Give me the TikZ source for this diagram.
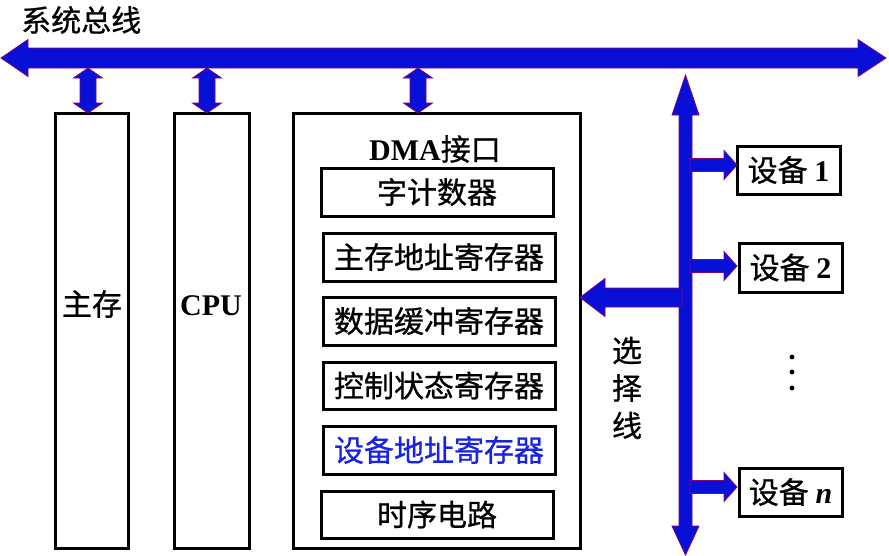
\documentclass[tikz,border=0pt]{standalone}
\usepackage{fontspec}
\setmainfont{Liberation Serif}
\newfontfamily\cjk[FakeBold=0.8]{Noto Sans CJK SC}
\definecolor{busblue}{RGB}{8,16,216}
\definecolor{busedge}{RGB}{128,0,128}
\definecolor{regblue}{RGB}{25,35,225}

% vertical two-headed block arrow: centre x, top y, bottom y
\newcommand\tapArrow[3]{%
  \path[blk] (#1,#2) -- (#1+14.5,#2+10) -- (#1+8,#2+10) -- (#1+8,#3-10)
    -- (#1+14.5,#3-10) -- (#1,#3) -- (#1-14.5,#3-10) -- (#1-8,#3-10)
    -- (#1-8,#2+10) -- (#1-14.5,#2+10) -- cycle;}
% short right-pointing block arrow from the select line to a device
\newcommand\devArrow[1]{%
  \path[blk] (690,#1-6.5) -- (724,#1-6.5) -- (724,#1-14.5) -- (737,#1)
    -- (724,#1+14.5) -- (724,#1+6.5) -- (690,#1+6.5) -- cycle;}

\begin{document}
\begin{tikzpicture}[x=1pt,y=-1pt,
  box/.style={draw=black, line width=3pt, inner sep=0pt},
  cjklab/.style={font=\cjk\fontsize{30}{36}\selectfont, inner sep=0pt},
  blk/.style={fill=busblue, draw=busedge, line width=0.8pt, line join=miter}]
\useasboundingbox (0,0) rectangle (889,555);

% system bus
\node[cjklab, anchor=west] (bustitle) at (21,20) {系统总线};
\path[blk] (1,58) -- (28,39.5) -- (28,48) -- (858,48) -- (858,39.5) -- (886,58)
  -- (858,76.5) -- (858,68) -- (28,68) -- (28,76.5) -- cycle;

% main memory and CPU
\node[box, minimum width=73pt, minimum height=435pt] (mem) at (91.5,330.5) {};
\node[cjklab] (memlab) at (92,304) {主存};
\node[box, minimum width=75pt, minimum height=435pt] (cpu) at (211.5,330.5) {};
\node[font=\bfseries\fontsize{30}{36}\selectfont, inner sep=0pt] (cpulab) at (211,306) {CPU};

% DMA interface and its registers
\node[box, minimum width=287pt, minimum height=435pt] (dma) at (436.5,330.5) {};
\node[inner sep=0pt] (dmalab) at (435,149)
  {\fontsize{30}{34}\selectfont{\bfseries DMA}\cjk 接口};
\node[box, minimum width=232pt, minimum height=48pt] (cnt) at (437,192) {};
\node[cjklab] at (cnt) {字计数器};
\node[box, minimum width=232pt, minimum height=48pt] (maddr) at (439,257) {};
\node[cjklab] at (maddr) {主存地址寄存器};
\node[box, minimum width=232pt, minimum height=48pt] (dbuf) at (439,321) {};
\node[cjklab] at (dbuf) {数据缓冲寄存器};
\node[box, minimum width=232pt, minimum height=47pt] (ctrl) at (439,385.5) {};
\node[cjklab] at (ctrl) {控制状态寄存器};
\node[box, minimum width=232pt, minimum height=48pt] (daddr) at (439,450) {};
\node[cjklab, text=regblue] at (daddr) {设备地址寄存器};
\node[box, minimum width=232pt, minimum height=47pt] (timing) at (437,514.5) {};
\node[cjklab] at (timing) {时序电路};

% bus taps
\tapArrow{88}{68}{113}
\tapArrow{207}{68}{113}
\tapArrow{418}{68}{113}

% devices
\node[box, minimum width=103pt, minimum height=48pt] (dev1) at (788.5,170) {};
\node[cjklab] at (dev1) {设备 {\rmfamily\bfseries 1}};
\node[box, minimum width=103pt, minimum height=49pt] (dev2) at (790.5,267.5) {};
\node[cjklab] at (dev2) {设备 {\rmfamily\bfseries 2}};
\node[box, minimum width=103pt, minimum height=48pt] (devn) at (790.5,492) {};
\node[cjklab] at (devn) {设备 {\rmfamily\bfseries\itshape n}};
\foreach \yy in {357,372,388} \fill (792,\yy) circle (2.4pt);

% select line
\path[blk] (685.5,75) -- (699,115) -- (692,115) -- (692,526) -- (699,526)
  -- (685.5,555) -- (672,526) -- (679,526) -- (679,115) -- (672,115) -- cycle;
\path[blk] (682,288) -- (605,288) -- (605,278.5) -- (580,297.5) -- (605,316.5)
  -- (605,307) -- (682,307) -- cycle;
\devArrow{165}
\devArrow{266}
\devArrow{487}
\node[cjklab, align=center, font=\cjk\fontsize{30}{37.5}\selectfont] (sel) at (627,388) {选\\择\\线};
\end{tikzpicture}
\end{document}
